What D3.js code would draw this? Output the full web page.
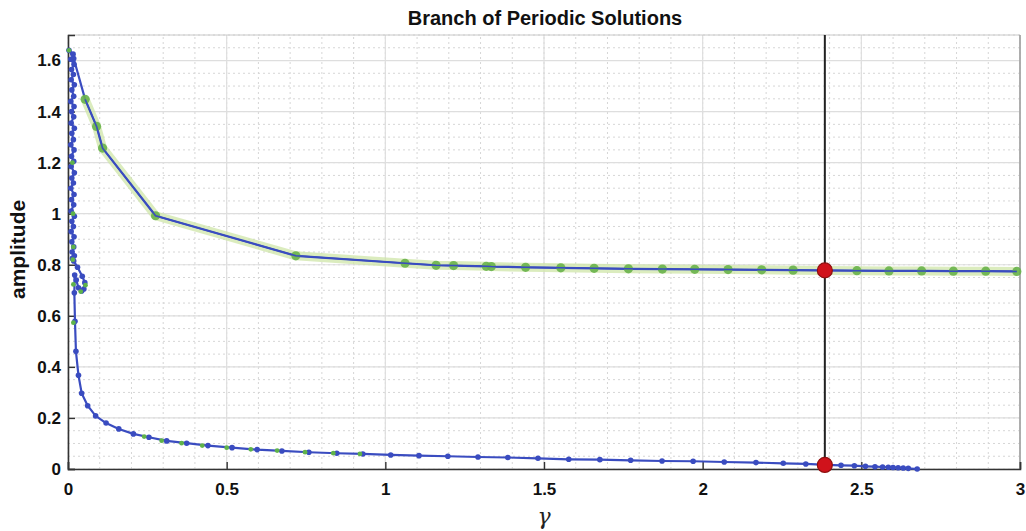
<!DOCTYPE html>
<html>
<head>
<meta charset="utf-8">
<script src="https://cdn.jsdelivr.net/npm/d3@7"></script>
<style>
  body { margin: 0; background: #fff; }
  text { font-family: "Liberation Sans", Arial, sans-serif; }
</style>
</head>
<body>
<div id="chart"></div>
<script>
// upper (stable) branch, gamma vs amplitude
var upperG = [0.054, 0.09, 0.109, 0.276, 0.718, 1.062, 1.16, 1.215, 1.318, 1.334, 1.442, 1.553, 1.658, 1.766, 1.873, 1.975, 2.08, 2.186, 2.285, 2.39, 2.486, 2.587, 2.69, 2.79, 2.892, 2.99]
var upperA = [1.448, 1.342, 1.257, 0.992, 0.835, 0.806, 0.798, 0.797, 0.794, 0.793, 0.79, 0.788, 0.786, 0.784, 0.783, 0.782, 0.781, 0.78, 0.779, 0.778, 0.777, 0.776, 0.776, 0.775, 0.775, 0.774]
// the bunch near gamma = 0 (turning points + loop)
var foldG = [0.018, 0.003, 0.016, 0.009, 0.019, 0.011, 0.017, 0.01, 0.02, 0.012, 0.018, 0.009, 0.019, 0.011, 0.018, 0.01, 0.02, 0.012, 0.017, 0.009, 0.019, 0.011, 0.018, 0.01, 0.02, 0.012, 0.017, 0.009, 0.019, 0.011, 0.018, 0.01, 0.02, 0.012, 0.017, 0.01, 0.019, 0.012, 0.018, 0.013, 0.02, 0.014, 0.018, 0.03, 0.045, 0.053, 0.05, 0.043, 0.033, 0.026, 0.021, 0.02]
var foldA = [1.608, 1.64, 1.625, 1.605, 1.585, 1.565, 1.545, 1.525, 1.505, 1.485, 1.46, 1.44, 1.42, 1.4, 1.38, 1.355, 1.335, 1.315, 1.29, 1.27, 1.25, 1.225, 1.205, 1.185, 1.16, 1.14, 1.12, 1.1, 1.075, 1.055, 1.035, 1.01, 0.99, 0.97, 0.95, 0.93, 0.91, 0.89, 0.87, 0.85, 0.835, 0.825, 0.815, 0.79, 0.755, 0.73, 0.705, 0.697, 0.71, 0.74, 0.76, 0.69]
// lower branch
var lowerG = [0.022, 0.025, 0.033, 0.043, 0.062, 0.087, 0.12, 0.16, 0.206, 0.255, 0.311, 0.374, 0.441, 0.517, 0.596, 0.674, 0.759, 0.847, 0.929, 1.017, 1.106, 1.197, 1.292, 1.386, 1.481, 1.578, 1.676, 1.773, 1.872, 1.97, 2.068, 2.168, 2.254, 2.325, 2.39, 2.436, 2.478, 2.513, 2.543, 2.567, 2.585, 2.6, 2.616, 2.632, 2.648, 2.676]
var lowerA = [0.579, 0.461, 0.367, 0.297, 0.248, 0.208, 0.18, 0.157, 0.1375, 0.1245, 0.11, 0.101, 0.0916, 0.0837, 0.0759, 0.0708, 0.0656, 0.0616, 0.059, 0.055, 0.0523, 0.05, 0.047, 0.045, 0.042, 0.038, 0.0366, 0.034, 0.0314, 0.0303, 0.0275, 0.025, 0.0224, 0.0197, 0.0165, 0.0145, 0.013, 0.0106, 0.009, 0.0079, 0.0068, 0.006, 0.005, 0.004, 0.0025, 0.0]
// small green markers (stable points on the other parts)
var stabG = [0.003, 0.014, 0.016, 0.017, 0.015, 0.055, 0.04, 0.017, 0.017, 0.24, 0.295, 0.358, 0.423, 0.5, 0.576, 0.659, 0.747, 0.836, 0.92]
var stabA = [1.64, 1.2, 1.0, 0.87, 0.82, 0.72, 0.695, 0.723, 0.573, 0.127, 0.111, 0.101, 0.0917, 0.0837, 0.077, 0.072, 0.066, 0.062, 0.059]
// selected gamma and the two solutions there
var selGamma = 2.385
var selA = [0.778, 0.016]

var xTicks = [0, 0.5, 1, 1.5, 2, 2.5, 3]
var yTicks = [0, 0.2, 0.4, 0.6, 0.8, 1, 1.2, 1.4, 1.6]

var W = 1026, H = 531
var m = {left: 68, right: 6, top: 35, bottom: 62}

var svg = d3.select("#chart").append("svg").attr("width", W).attr("height", H)

var x = d3.scaleLinear().domain([0, 3]).range([m.left, W - m.right])
var y = d3.scaleLinear().domain([0, 1.7]).range([H - m.bottom, m.top])

// minor grid (dotted)
var xMinor = d3.range(0, 3.0001, 0.1)
var yMinor = d3.range(0, 1.7001, 0.05)
svg.append("g").selectAll("line").data(xMinor).enter().append("line")
  .attr("x1", d => x(d)).attr("x2", d => x(d)).attr("y1", y(0)).attr("y2", y(1.7))
  .attr("stroke", "#d6d6d6").attr("stroke-width", 1).attr("stroke-dasharray", "2,3")
svg.append("g").selectAll("line").data(yMinor).enter().append("line")
  .attr("x1", x(0)).attr("x2", x(3)).attr("y1", d => y(d)).attr("y2", d => y(d))
  .attr("stroke", "#d6d6d6").attr("stroke-width", 1).attr("stroke-dasharray", "2,3")

// major grid
svg.append("g").selectAll("line").data(xTicks).enter().append("line")
  .attr("x1", d => x(d)).attr("x2", d => x(d)).attr("y1", y(0)).attr("y2", y(1.7))
  .attr("stroke", "#dedede").attr("stroke-width", 1.2)
svg.append("g").selectAll("line").data(yTicks).enter().append("line")
  .attr("x1", x(0)).attr("x2", x(3)).attr("y1", d => y(d)).attr("y2", d => y(d))
  .attr("stroke", "#dedede").attr("stroke-width", 1.2)

// box top/right
svg.append("line").attr("x1", x(0)).attr("x2", x(3)).attr("y1", y(1.7)).attr("y2", y(1.7))
  .attr("stroke", "#c8c8c8").attr("stroke-width", 1)
svg.append("line").attr("x1", x(3)).attr("x2", x(3)).attr("y1", y(0)).attr("y2", y(1.7))
  .attr("stroke", "#9a9a9a").attr("stroke-width", 1.5)

// axes
var xAxis = d3.axisBottom(x).tickValues(xTicks).tickFormat(d3.format("~g")).tickSize(-7).tickPadding(14)
var yAxis = d3.axisLeft(y).tickValues(yTicks).tickFormat(d3.format("~g")).tickSize(-7).tickPadding(7)
var gx = svg.append("g").attr("transform", "translate(0," + y(0) + ")").call(xAxis)
var gy = svg.append("g").attr("transform", "translate(" + x(0) + ",0)").call(yAxis)
;[gx, gy].forEach(function(g){
  g.select(".domain").attr("stroke", "#333").attr("stroke-width", 1.6)
  g.selectAll(".tick line").attr("stroke", "#333").attr("stroke-width", 1.4)
  g.selectAll(".tick text").attr("fill", "#111").style("font-size", "17px").style("font-weight", "bold")
    .style("font-family", '"Liberation Sans", Arial, sans-serif')
})

var line = d3.line().x(d => x(d[0])).y(d => y(d[1]))
var upper = upperG.map((g, i) => [g, upperA[i]])
var fold = foldG.map((g, i) => [g, foldA[i]])
var lower = lowerG.map((g, i) => [g, lowerA[i]])
var full = upper.slice().reverse().concat(fold, lower)

// light green band under the stable branch
svg.append("path").datum(upper).attr("d", line)
  .attr("fill", "none").attr("stroke", "#cfe6a8").attr("stroke-opacity", 0.75)
  .attr("stroke-width", 9).attr("stroke-linejoin", "round")

// continuation curve
svg.append("path").datum(full).attr("d", line)
  .attr("fill", "none").attr("stroke", "#3a4cc0").attr("stroke-width", 2.2).attr("stroke-linejoin", "round")

// vertical marker at chosen gamma
svg.append("line").attr("x1", x(selGamma)).attr("x2", x(selGamma)).attr("y1", y(0)).attr("y2", y(1.7))
  .attr("stroke", "#222").attr("stroke-width", 2)

// blue point markers
svg.append("g").selectAll("circle").data(fold.concat(lower)).enter().append("circle")
  .attr("cx", d => x(d[0])).attr("cy", d => y(d[1])).attr("r", 2.8).attr("fill", "#3a4cc0")

// green markers
svg.append("g").selectAll("circle").data(stabG.map((g, i) => [g, stabA[i]])).enter().append("circle")
  .attr("cx", d => x(d[0])).attr("cy", d => y(d[1])).attr("r", 2.4).attr("fill", "#5fb34a")
svg.append("g").selectAll("circle").data(upper).enter().append("circle")
  .attr("cx", d => x(d[0])).attr("cy", d => y(d[1])).attr("r", 4.6).attr("fill", "#68b24a").attr("fill-opacity", 0.9)
svg.append("path").datum(upper).attr("d", line)
  .attr("fill", "none").attr("stroke", "#3a4cc0").attr("stroke-width", 1.5)

// red points
svg.append("g").selectAll("circle").data(selA).enter().append("circle")
  .attr("cx", x(selGamma)).attr("cy", d => y(d)).attr("r", 7.5)
  .attr("fill", "#d0121b").attr("stroke", "#8e1010").attr("stroke-width", 1.2)

// labels
svg.append("text").attr("x", 545).attr("y", 25).attr("text-anchor", "middle")
  .style("font-size", "20px").style("font-weight", "bold").attr("fill", "#111")
  .text("Branch of Periodic Solutions")
svg.append("text").attr("transform", "translate(25," + y(0.86) + ") rotate(-90)").attr("text-anchor", "middle")
  .style("font-size", "21px").style("font-weight", "bold").attr("fill", "#111")
  .text("amplitude")
svg.append("text").attr("x", x(1.5)).attr("y", 524).attr("text-anchor", "middle")
  .style("font-size", "22px").style("font-style", "italic").style("font-family", '"DejaVu Serif", "Liberation Serif", serif')
  .attr("fill", "#222").text("γ")
</script>
</body>
</html>
